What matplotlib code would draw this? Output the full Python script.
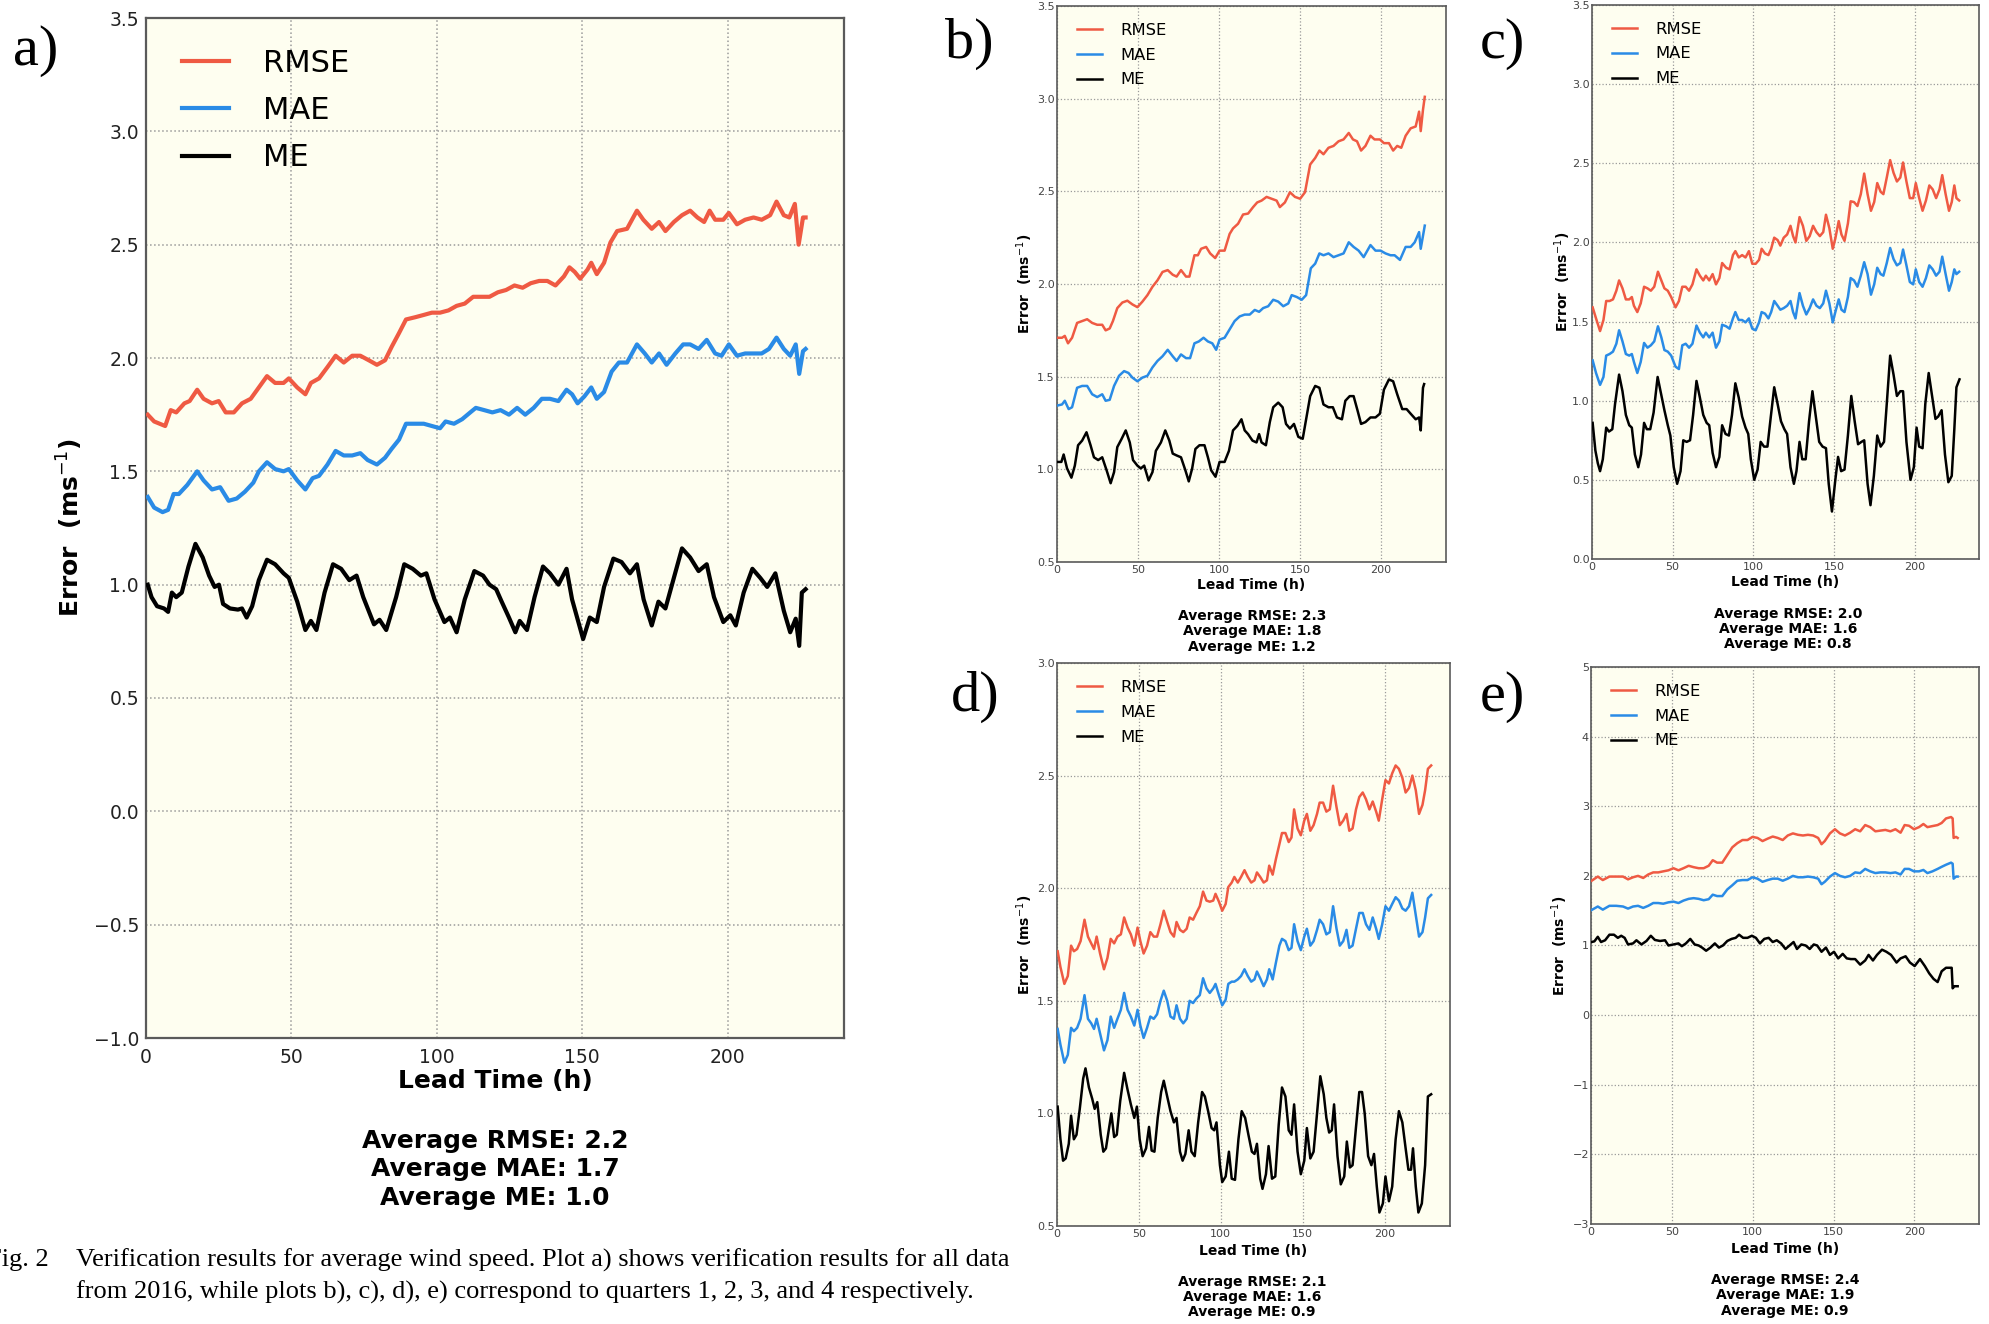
import matplotlib
matplotlib.use('Agg')
import matplotlib.pyplot as plt

# ---------------- data (lead time h, error m/s) ----------------
SERIES = ['RMSE', 'MAE', 'ME']

A_RMSE = [(0.6,1.75),(2.8,1.72),(6.6,1.70),(8.5,1.77),(10.4,1.76),(13.2,1.80),(15,1.81),(17.6,1.86),(19.8,1.82),(22.7,1.80),(25,1.81),(27.4,1.76),(30.2,1.76),(33,1.80),(36,1.82),(38.8,1.87),(41.6,1.92),(44.4,1.89),(47.3,1.89),(49.1,1.91),(52,1.87),(54.8,1.84),(56.7,1.89),(59.5,1.91),(62.4,1.96),(65.2,2.01),(68,1.98),(70.9,2.01),(73.7,2.01),(76.6,1.99),(79.4,1.97),(82.2,1.99),(84.5,2.05),(87,2.11),(89.4,2.17),(92.6,2.18),(95.5,2.19),(98.3,2.20),(101.1,2.20),(104,2.21),(106.8,2.23),(109.6,2.24),(112.5,2.27),(115.3,2.27),(118.1,2.27),(121,2.29),(123.8,2.30),(126.7,2.32),(129.5,2.31),(132.3,2.33),(135.2,2.34),(138,2.34),(140.8,2.32),(143.7,2.36),(145.6,2.40),(147.4,2.38),(149.3,2.35),(151.8,2.39),(153.1,2.42),(155,2.37),(157.5,2.42),(159.7,2.51),(162,2.56),(165.4,2.57),(168.8,2.65),(171,2.61),(173.9,2.57),(176.4,2.60),(178.6,2.56),(181.5,2.60),(184.3,2.63),(187.1,2.65),(189.6,2.62),(191.9,2.60),(193.8,2.65),(195.7,2.61),(198.5,2.61),(200.4,2.64),(203.2,2.59),(206,2.61),(208.9,2.62),(211.7,2.61),(214.6,2.63),(216.8,2.69),(219.3,2.63),(221.2,2.62),(223.1,2.68),(224.4,2.50),(225.9,2.62),(226.8,2.62)]
A_MAE = [(0.6,1.387),(2.8,1.34),(5.7,1.32),(7.6,1.33),(9.5,1.40),(11.3,1.40),(14.2,1.44),(17.6,1.50),(19.8,1.46),(22.7,1.42),(25.5,1.43),(28.4,1.37),(31.2,1.38),(34,1.41),(36.9,1.45),(38.8,1.50),(41.6,1.54),(44.4,1.51),(47.3,1.50),(49.1,1.51),(52,1.46),(54.8,1.42),(57.3,1.47),(59.5,1.48),(62.4,1.53),(65.2,1.59),(68,1.57),(70.9,1.57),(73.7,1.58),(76.2,1.55),(79.4,1.53),(82.2,1.56),(84.5,1.60),(87,1.64),(89.4,1.71),(92.6,1.71),(95.5,1.71),(98.3,1.70),(101.1,1.69),(103,1.72),(105.9,1.71),(108.7,1.73),(111.5,1.76),(113.4,1.78),(116.3,1.77),(119.1,1.76),(121.9,1.77),(124.8,1.75),(127.6,1.78),(130.4,1.75),(133.3,1.78),(136.1,1.82),(138.9,1.82),(141.8,1.81),(144.6,1.86),(146.5,1.84),(148.4,1.80),(150.7,1.83),(153.1,1.87),(155,1.82),(157.5,1.85),(160.1,1.94),(162.6,1.98),(165.4,1.98),(168.8,2.06),(171.5,2.02),(173.9,1.98),(176.4,2.02),(179,1.97),(182,2.02),(184.7,2.06),(187.1,2.06),(190,2.04),(192.8,2.08),(195.7,2.02),(197.9,2.01),(200.4,2.06),(203.2,2.01),(206,2.02),(208.9,2.02),(211.7,2.02),(214.2,2.04),(216.8,2.09),(219.3,2.04),(221.5,2.01),(223.4,2.06),(224.6,1.93),(225.9,2.03),(226.8,2.04)]
A_ME = [(0.6,1.00),(1.9,0.945),(3.8,0.905),(6.2,0.895),(7.6,0.88),(8.9,0.965),(10.4,0.945),(12.3,0.965),(14.6,1.08),(17,1.18),(19.5,1.12),(21.7,1.04),(23.6,0.99),(25.1,1.00),(26.5,0.915),(28.9,0.895),(31.6,0.89),(33,0.895),(34.6,0.855),(36.5,0.905),(38.8,1.02),(41.6,1.11),(44.4,1.09),(47.3,1.05),(49.1,1.03),(52,0.925),(54.8,0.80),(56.7,0.84),(58.6,0.80),(61.4,0.965),(64.3,1.09),(67.1,1.07),(69.9,1.02),(72.4,1.04),(74.7,0.945),(78.4,0.825),(80.3,0.845),(82.6,0.80),(86,0.945),(88.8,1.09),(91.7,1.07),(94.5,1.04),(96.4,1.05),(99.2,0.935),(102.6,0.835),(104.5,0.855),(106.8,0.79),(109.6,0.935),(112.9,1.06),(115.9,1.04),(118.1,1.00),(120.4,0.98),(122.3,0.925),(124.8,0.855),(127,0.79),(128.5,0.84),(131,0.80),(133.6,0.945),(136.5,1.08),(138.9,1.05),(141.8,1.00),(144.6,1.07),(146.5,0.935),(150.3,0.76),(152.6,0.855),(155,0.835),(157.5,0.99),(160.7,1.115),(163.5,1.10),(166.4,1.05),(168.8,1.09),(171.1,0.935),(173.9,0.82),(176.2,0.925),(178.6,0.895),(181.5,1.03),(184.3,1.16),(187.1,1.12),(190,1.06),(192.8,1.09),(195.3,0.945),(198.5,0.835),(200.9,0.865),(202.8,0.82),(205.5,0.965),(208.5,1.07),(211.2,1.03),(213.6,0.99),(216.4,1.05),(219.3,0.885),(221.5,0.79),(223.4,0.85),(224.6,0.73),(225.5,0.965),(226.8,0.98)]

B_RMSE = [(0.6,1.71),(3.1,1.71),(4.8,1.72),(6.8,1.68),(9.3,1.71),(12.4,1.79),(15.5,1.80),(18.6,1.81),(21.7,1.79),(24.8,1.78),(27.9,1.78),(30,1.75),(32.5,1.76),(34.5,1.80),(37.2,1.87),(40.3,1.90),(43.4,1.91),(46.5,1.89),(49.6,1.875),(52.7,1.905),(55.8,1.94),(58.9,1.985),(62,2.02),(65.1,2.065),(68.3,2.075),(71.4,2.05),(73.8,2.04),(76.5,2.075),(79.6,2.04),(81.7,2.04),(84.8,2.155),(86.9,2.155),(88.9,2.19),(92,2.20),(94.5,2.165),(97.6,2.14),(100.3,2.18),(103.4,2.18),(106.5,2.27),(108.6,2.30),(111.7,2.325),(114.8,2.375),(117.9,2.38),(121,2.415),(123.5,2.44),(126.2,2.45),(129.3,2.47),(132.4,2.46),(135.5,2.45),(137.5,2.415),(140.6,2.44),(143.7,2.495),(146.8,2.47),(150,2.46),(153,2.495),(156.2,2.645),(159.3,2.68),(161.9,2.72),(164.4,2.70),(167.5,2.735),(170.6,2.745),(173.7,2.77),(176.8,2.78),(180,2.815),(182.6,2.78),(185.1,2.77),(187.6,2.72),(190.3,2.745),(193.4,2.80),(195.9,2.78),(199.2,2.78),(201.7,2.76),(204.8,2.76),(207.4,2.72),(209.9,2.745),(212.4,2.735),(215.1,2.80),(218.2,2.84),(221.3,2.85),(223.4,2.93),(224.4,2.825),(225.8,2.94),(226.9,3.01)]
B_MAE = [(0.6,1.345),(3.1,1.35),(4.8,1.37),(7.2,1.325),(9.3,1.335),(12.4,1.44),(15.5,1.45),(18.6,1.45),(21.7,1.405),(24.8,1.39),(27.9,1.405),(30,1.37),(32.5,1.375),(35.2,1.45),(38.3,1.505),(41.4,1.53),(44.1,1.52),(46.5,1.495),(49.6,1.475),(52.7,1.495),(55.8,1.505),(58.9,1.55),(62,1.585),(65.1,1.61),(68.3,1.645),(71.4,1.61),(73.8,1.585),(76.5,1.62),(79.6,1.60),(82.1,1.60),(84.8,1.68),(87.5,1.69),(90.4,1.71),(93.1,1.69),(95.8,1.68),(98.2,1.645),(100.3,1.70),(103.4,1.71),(106.5,1.755),(109.6,1.80),(112.7,1.825),(115.8,1.835),(118.9,1.835),(122,1.86),(124.7,1.85),(127.2,1.87),(130.3,1.88),(133.4,1.915),(136.5,1.905),(139.6,1.88),(142.7,1.895),(144.8,1.94),(147.9,1.93),(151,1.915),(153.7,1.94),(156.6,2.085),(159.3,2.11),(161.9,2.165),(164.4,2.155),(167.5,2.165),(170.6,2.145),(173.7,2.155),(176.8,2.165),(180,2.225),(183,2.20),(186.1,2.18),(189.2,2.145),(193.4,2.21),(196.5,2.18),(199.6,2.18),(202.7,2.165),(205.8,2.155),(208.3,2.155),(211.6,2.13),(215.1,2.20),(218.2,2.20),(220.7,2.225),(223.4,2.28),(224.4,2.19),(225.8,2.26),(226.9,2.315)]
B_ME = [(0.6,1.04),(2.7,1.04),(4.1,1.08),(6.2,1.005),(8.9,0.955),(11,1.02),(13,1.13),(15.5,1.155),(18.2,1.20),(20.7,1.13),(22.8,1.065),(25.4,1.05),(27.9,1.065),(30.6,0.995),(33.1,0.925),(35.2,0.985),(37.2,1.12),(39.9,1.165),(42.4,1.21),(44.9,1.145),(46.9,1.05),(49.6,1.02),(51.7,1.005),(53.8,1.02),(56.5,0.94),(58.9,0.985),(61,1.10),(64.1,1.145),(66.8,1.21),(69.3,1.155),(71.4,1.085),(73.8,1.075),(76.5,1.065),(79.2,0.995),(81.3,0.935),(83.4,1.005),(85.4,1.11),(87.9,1.13),(91,1.13),(93.1,1.065),(95.1,0.995),(97.8,0.96),(100.3,1.04),(103.4,1.04),(106.1,1.10),(108.6,1.21),(111.3,1.235),(113.8,1.27),(115.8,1.21),(117.9,1.19),(120.6,1.155),(123.1,1.145),(124.7,1.19),(126.2,1.145),(128.9,1.13),(131.3,1.255),(133.4,1.335),(136.5,1.36),(139.2,1.335),(141.3,1.245),(143.7,1.22),(146.2,1.245),(148.9,1.175),(151.6,1.165),(154.1,1.29),(156.2,1.395),(159.3,1.45),(161.9,1.44),(164.4,1.35),(167.5,1.335),(170.2,1.335),(172.7,1.28),(175.8,1.27),(177.9,1.37),(180.6,1.395),(183,1.395),(185.5,1.315),(187.6,1.245),(190.3,1.255),(193.4,1.28),(196.5,1.28),(199.2,1.30),(201.7,1.43),(204.8,1.485),(207.4,1.475),(209.9,1.405),(213,1.325),(215.7,1.325),(218.2,1.30),(221.3,1.27),(223.4,1.28),(224.4,1.21),(225.8,1.44),(226.5,1.46)]

C_RMSE = [(0.4,1.59),(2.5,1.52),(5,1.44),(7.1,1.51),(8.8,1.63),(10.9,1.63),(13,1.64),(15.1,1.695),(16.8,1.76),(18.9,1.71),(21,1.64),(23.1,1.64),(24.7,1.655),(26,1.60),(28.1,1.56),(30.2,1.615),(32.3,1.72),(34.4,1.71),(36.5,1.695),(38.6,1.72),(40.9,1.815),(43,1.76),(44.9,1.71),(47,1.695),(49.1,1.655),(51.8,1.59),(53.9,1.63),(56,1.72),(58.1,1.72),(60.2,1.695),(62.3,1.735),(64.8,1.83),(66.9,1.79),(69,1.76),(70.6,1.79),(72.7,1.76),(74.8,1.80),(76.9,1.735),(79,1.775),(80.7,1.87),(83.2,1.84),(85.3,1.83),(87.4,1.92),(88.9,1.945),(91,1.905),(93.1,1.92),(95.2,1.905),(97.3,1.945),(99.4,1.865),(101.5,1.865),(103.6,1.89),(105.2,1.96),(107.3,1.93),(109.4,1.92),(111.1,1.96),(113,2.03),(115.1,2.015),(116.8,1.98),(118.9,2.03),(121,2.05),(123.1,2.105),(124.7,2.04),(126.2,2.00),(128.7,2.16),(130.8,2.105),(132.9,2.01),(135,2.04),(137.1,2.105),(139.2,2.065),(141.3,2.04),(143.4,2.065),(145.1,2.175),(147.2,2.09),(149.3,1.96),(150.9,2.025),(153,2.135),(154.7,2.05),(156.6,2.01),(158.7,2.12),(160.4,2.26),(162.5,2.255),(164.6,2.23),(166.7,2.305),(168.8,2.435),(170.9,2.305),(173,2.20),(175,2.255),(176.9,2.375),(179,2.32),(180.7,2.305),(182.8,2.41),(184.9,2.52),(187,2.44),(189.1,2.385),(191.2,2.41),(192.9,2.505),(195,2.385),(197.1,2.28),(199.2,2.28),(200.8,2.375),(202.9,2.28),(205,2.20),(207.1,2.265),(209.2,2.36),(211.3,2.335),(213.4,2.28),(215.5,2.335),(217.2,2.425),(219.3,2.305),(221.4,2.20),(223.1,2.255),(224.7,2.36),(226,2.28),(227.7,2.265)]
C_MAE = [(0.4,1.255),(2.5,1.175),(5,1.10),(7.1,1.15),(8.8,1.285),(10.9,1.295),(13,1.31),(15.1,1.36),(16.8,1.445),(18.9,1.375),(21,1.295),(23.1,1.285),(24.7,1.295),(26,1.245),(28.1,1.175),(30.2,1.245),(32.3,1.365),(34.4,1.335),(36.5,1.35),(38.6,1.375),(40.9,1.47),(43,1.40),(44.9,1.32),(47,1.31),(49.1,1.285),(51.8,1.215),(53.9,1.20),(56,1.35),(58.1,1.36),(60.2,1.335),(62.3,1.36),(64.8,1.475),(66.9,1.43),(69,1.40),(70.6,1.43),(72.7,1.40),(74.8,1.43),(76.9,1.335),(79,1.375),(80.7,1.48),(83.2,1.47),(85.3,1.455),(87.4,1.52),(88.9,1.56),(91,1.51),(93.1,1.51),(95.2,1.495),(97.3,1.52),(99.4,1.455),(101.5,1.445),(103.6,1.495),(105.2,1.56),(107.3,1.55),(109.4,1.52),(111.1,1.56),(113,1.63),(115.1,1.60),(116.8,1.575),(118.9,1.585),(121,1.60),(123.1,1.63),(124.7,1.56),(126.2,1.52),(128.7,1.68),(130.8,1.60),(132.9,1.545),(135,1.585),(137.1,1.64),(139.2,1.60),(141.3,1.585),(143.4,1.615),(145.1,1.695),(147.2,1.615),(149.3,1.495),(150.9,1.56),(153,1.64),(154.7,1.575),(156.6,1.56),(158.7,1.655),(160.4,1.775),(162.5,1.76),(164.6,1.72),(166.7,1.79),(168.8,1.875),(170.9,1.80),(173,1.67),(175,1.735),(176.9,1.84),(179,1.80),(180.7,1.79),(182.8,1.87),(184.9,1.965),(187,1.895),(189.1,1.855),(191.2,1.87),(192.9,1.955),(195,1.855),(197.1,1.75),(199.2,1.735),(200.8,1.83),(202.9,1.75),(205,1.72),(207.1,1.775),(209.2,1.855),(211.3,1.83),(213.4,1.79),(215.5,1.815),(217.2,1.91),(219.3,1.80),(221.4,1.695),(223.1,1.75),(224.7,1.83),(226,1.80),(227.7,1.815)]
C_ME = [(0.4,0.86),(2.1,0.685),(3.6,0.605),(5,0.555),(6.7,0.63),(8.8,0.83),(10.5,0.805),(12.6,0.82),(14.3,0.98),(16.8,1.165),(18.9,1.06),(21,0.91),(23.1,0.845),(24.7,0.83),(26.6,0.66),(28.7,0.58),(30.4,0.66),(32.3,0.86),(34,0.82),(36.1,0.82),(38.2,0.925),(40.7,1.15),(42.8,1.045),(44.9,0.94),(47,0.845),(48.6,0.78),(50.7,0.58),(52.8,0.475),(54.9,0.555),(56.6,0.75),(58.7,0.74),(60.8,0.75),(62.7,0.91),(64.8,1.125),(66.9,1.02),(69,0.91),(71.1,0.86),(72.7,0.845),(74.8,0.67),(76.9,0.58),(79,0.645),(80.7,0.845),(82.8,0.79),(84.9,0.78),(86.8,0.91),(88.9,1.11),(91,1.02),(93.1,0.90),(95.2,0.83),(96.9,0.79),(98.5,0.63),(100.6,0.50),(102.7,0.565),(104.6,0.74),(106.7,0.71),(108.8,0.71),(110.9,0.90),(113,1.085),(115.1,0.98),(117.2,0.87),(119.3,0.82),(121,0.79),(123.1,0.58),(125.2,0.475),(126.8,0.555),(128.7,0.74),(130.4,0.63),(132.5,0.63),(134.6,0.87),(136.7,1.06),(138.8,0.90),(140.9,0.74),(143,0.71),(145.1,0.70),(146.8,0.475),(148.8,0.30),(150.9,0.50),(152.6,0.645),(154.5,0.555),(156.6,0.565),(158.7,0.78),(160.8,1.03),(162.9,0.87),(165,0.725),(167.1,0.74),(168.8,0.75),(170.9,0.475),(172.7,0.34),(174.8,0.525),(176.9,0.78),(179,0.71),(181.1,0.74),(182.8,0.98),(184.9,1.285),(187,1.165),(189.1,1.03),(191.2,1.06),(192.9,1.06),(195,0.74),(197.5,0.50),(199.6,0.58),(201.3,0.83),(202.9,0.71),(205,0.70),(206.7,0.98),(208.8,1.175),(210.9,1.03),(213,0.885),(214.7,0.90),(216.8,0.94),(218.9,0.66),(221,0.485),(223.1,0.525),(224.7,0.82),(226,1.085),(227.9,1.135)]

D_RMSE = [(0.4,1.72),(2.1,1.65),(4.5,1.575),(6.6,1.61),(8.6,1.745),(10.3,1.72),(12.3,1.73),(14.4,1.765),(16.8,1.86),(18.9,1.785),(20.9,1.755),(22.6,1.73),(24.2,1.785),(26.3,1.71),(28.7,1.64),(30.8,1.69),(32.8,1.775),(34.9,1.755),(36.9,1.785),(39,1.795),(41,1.87),(43.1,1.825),(45.1,1.795),(47.2,1.745),(49.2,1.825),(50.9,1.765),(52.9,1.71),(55,1.745),(57,1.805),(59.1,1.785),(61.1,1.785),(63.2,1.84),(65.2,1.90),(67.3,1.85),(69.3,1.805),(71.4,1.785),(73,1.85),(75.1,1.815),(77.1,1.805),(79.2,1.82),(81,1.87),(83.1,1.86),(85.1,1.89),(87.2,1.92),(89.2,1.985),(91.3,1.945),(93.3,1.94),(95.4,1.945),(96.8,1.975),(98.9,1.94),(100.9,1.90),(103,1.93),(104.6,2.005),(106.7,2.025),(108.3,2.05),(110.4,2.025),(112.4,2.05),(114.5,2.08),(116.5,2.05),(118.6,2.025),(120.6,2.035),(122.1,2.07),(124.1,2.05),(126.2,2.025),(128.2,2.035),(129.6,2.10),(131.7,2.06),(133.7,2.13),(135.8,2.195),(137.4,2.245),(139.5,2.245),(141.5,2.205),(143.2,2.225),(144.8,2.35),(146.9,2.265),(148.9,2.235),(151,2.30),(152.6,2.33),(154.7,2.255),(156.7,2.28),(158.8,2.33),(160.4,2.38),(162.5,2.38),(164.5,2.34),(166.6,2.35),(168.6,2.455),(170.7,2.36),(172.7,2.28),(174.8,2.30),(176.8,2.33),(178.5,2.255),(180.5,2.265),(182.6,2.35),(184.6,2.405),(186.7,2.425),(188.7,2.395),(190.8,2.35),(192.8,2.385),(194.9,2.34),(196.5,2.30),(198.6,2.395),(200.6,2.48),(202.7,2.465),(204.7,2.51),(206.8,2.545),(208.8,2.53),(210.9,2.49),(212.9,2.425),(215,2.445),(217,2.50),(219.1,2.435),(221.1,2.33),(223.2,2.37),(224.8,2.435),(226.5,2.53),(228.5,2.545)]
D_MAE = [(0.4,1.375),(2.1,1.305),(4.5,1.225),(6.6,1.26),(8.6,1.38),(10.3,1.365),(12.3,1.38),(14.4,1.42),(16.8,1.525),(18.9,1.42),(20.9,1.40),(22.6,1.375),(24.2,1.42),(26.3,1.355),(28.7,1.28),(30.8,1.325),(32.8,1.43),(34.9,1.38),(36.9,1.42),(39,1.46),(41,1.535),(43.1,1.46),(45.1,1.43),(47.2,1.39),(49.2,1.46),(50.9,1.39),(52.9,1.335),(55,1.38),(57,1.43),(59.1,1.42),(61.1,1.44),(63.2,1.50),(65.2,1.545),(67.3,1.50),(69.3,1.43),(71.4,1.42),(73,1.48),(75.1,1.42),(77.1,1.40),(79.2,1.42),(81,1.50),(83.1,1.49),(85.1,1.51),(87.2,1.525),(89.2,1.60),(91.3,1.555),(93.3,1.535),(95.4,1.555),(96.8,1.575),(98.9,1.525),(100.9,1.48),(103,1.505),(104.6,1.575),(106.7,1.585),(108.3,1.585),(110.4,1.595),(112.4,1.61),(114.5,1.64),(116.5,1.61),(118.6,1.585),(120.6,1.595),(122.1,1.63),(124.1,1.60),(126.2,1.565),(128.2,1.595),(129.6,1.64),(131.7,1.595),(133.7,1.67),(135.8,1.745),(137.4,1.775),(139.5,1.765),(141.5,1.725),(143.2,1.735),(144.8,1.84),(146.9,1.765),(148.9,1.725),(151,1.785),(152.6,1.82),(154.7,1.745),(156.7,1.765),(158.8,1.815),(160.4,1.86),(162.5,1.84),(164.5,1.795),(166.6,1.805),(168.6,1.92),(170.7,1.82),(172.7,1.745),(174.8,1.765),(176.8,1.815),(178.5,1.735),(180.5,1.745),(182.6,1.82),(184.6,1.89),(186.7,1.89),(188.7,1.84),(190.8,1.815),(192.8,1.87),(194.9,1.82),(196.5,1.775),(198.6,1.84),(200.6,1.92),(202.7,1.90),(204.7,1.93),(206.8,1.96),(208.8,1.945),(210.9,1.91),(212.9,1.90),(215,1.92),(217,1.98),(219.1,1.88),(221.1,1.785),(223.2,1.805),(224.8,1.87),(226.5,1.955),(228.5,1.97)]
D_ME = [(0.4,1.03),(2.1,0.885),(3.7,0.79),(5.3,0.80),(7.2,0.865),(8.6,0.99),(10.3,0.885),(11.9,0.905),(13.9,1.02),(16,1.155),(17.4,1.20),(19.5,1.115),(21.5,1.065),(23,1.02),(24.6,1.05),(26.7,0.905),(28.3,0.83),(29.9,0.845),(31.8,0.935),(33.2,1.00),(34.9,0.895),(36.5,0.905),(38.6,1.055),(41,1.18),(43.1,1.105),(45.1,1.04),(47.2,0.98),(48.8,1.03),(50.5,0.885),(52.3,0.81),(54.4,0.845),(56.2,0.94),(57.8,0.835),(59.5,0.83),(61.5,0.98),(63.6,1.095),(65.2,1.145),(67.3,1.075),(69.3,1.01),(71.4,0.96),(73,0.98),(75.1,0.83),(76.7,0.79),(78.4,0.82),(80.4,0.925),(82.1,0.83),(84.1,0.81),(86.2,0.96),(88.6,1.095),(90.3,1.075),(92.3,1.01),(94.4,0.935),(96,0.925),(97.4,0.96),(99.5,0.77),(100.9,0.695),(103,0.72),(105,0.83),(106.7,0.71),(108.7,0.705),(110.8,0.885),(112.8,1.01),(114.9,0.98),(116.9,0.905),(119,0.83),(120.6,0.82),(122.1,0.865),(124.1,0.71),(125.5,0.665),(127.6,0.73),(129.2,0.855),(131.3,0.71),(133.3,0.72),(135.4,0.95),(137.4,1.115),(139.5,1.075),(141.5,0.925),(143.2,0.905),(144.8,1.04),(146.9,0.83),(148.9,0.73),(151,0.79),(152.6,0.935),(154.7,0.80),(156.7,0.83),(158.8,1.00),(160.8,1.165),(162.9,1.085),(164.5,0.98),(166.2,0.915),(167.8,0.925),(169.2,1.04),(171.3,0.81),(173.3,0.685),(175.4,0.72),(177,0.875),(178.9,0.76),(180.5,0.77),(182.6,0.94),(184.6,1.095),(186.3,1.095),(187.9,1.00),(190,0.81),(192,0.77),(193.6,0.82),(195.3,0.675),(196.9,0.56),(199,0.60),(200.6,0.72),(202.7,0.61),(204.7,0.675),(206.8,0.885),(208.8,1.01),(210.9,0.96),(212.9,0.845),(214.6,0.75),(216.2,0.75),(217.4,0.845),(219.1,0.675),(220.7,0.56),(222.8,0.60),(224.8,0.77),(226.5,1.075),(228.5,1.085)]

E_RMSE = [(0.4,1.93),(4.2,1.99),(7.3,1.94),(11.4,1.99),(15.6,1.99),(19.8,1.99),(22.9,1.95),(26,1.98),(29.1,2.00),(32.3,1.97),(35.4,2.02),(38.5,2.05),(41.6,2.05),(44.7,2.065),(47.9,2.08),(51,2.11),(54.1,2.08),(57.2,2.11),(60.4,2.145),(63.5,2.125),(66.6,2.11),(69.7,2.11),(72.8,2.145),(75.3,2.225),(78,2.19),(81.2,2.19),(84.3,2.30),(87.4,2.41),(90.5,2.47),(93.7,2.515),(96.8,2.515),(99.9,2.56),(103,2.545),(106.1,2.50),(109.3,2.535),(112.4,2.565),(115.5,2.545),(118.6,2.515),(121.7,2.58),(124.9,2.61),(128,2.59),(131.1,2.58),(134.2,2.59),(137.4,2.58),(140.5,2.545),(142.6,2.455),(144.6,2.50),(147.8,2.61),(150.9,2.67),(154,2.61),(157.1,2.58),(160.3,2.62),(163.4,2.67),(166.5,2.64),(169.6,2.73),(172.7,2.70),(175.9,2.64),(179,2.65),(182.1,2.66),(185.2,2.64),(188.3,2.67),(191.5,2.62),(194,2.73),(196.7,2.72),(199.8,2.67),(202.9,2.70),(205.6,2.745),(208.1,2.70),(211.2,2.715),(214.4,2.73),(216.9,2.76),(219.6,2.825),(222.7,2.845),(223.7,2.825),(224.3,2.545),(225.8,2.56),(226.8,2.545)]
E_MAE = [(0.4,1.51),(4.2,1.56),(7.3,1.515),(11.4,1.57),(15.6,1.57),(19.8,1.56),(22.9,1.53),(26,1.56),(29.1,1.57),(32.3,1.54),(35.4,1.57),(38.5,1.61),(41.6,1.61),(44.7,1.60),(47.9,1.62),(51,1.63),(54.1,1.61),(57.2,1.645),(60.4,1.67),(63.5,1.68),(66.6,1.67),(69.7,1.65),(72.8,1.665),(75.3,1.73),(78,1.71),(81.2,1.71),(84.3,1.805),(87.4,1.865),(90.5,1.93),(93.7,1.94),(96.8,1.94),(99.9,1.98),(103,1.96),(106.1,1.915),(109.3,1.94),(112.4,1.96),(115.5,1.96),(118.6,1.93),(121.7,1.96),(124.9,2.00),(128,1.98),(131.1,1.98),(134.2,1.99),(137.4,1.98),(140.5,1.96),(142.6,1.88),(144.6,1.915),(147.8,1.99),(150.9,2.04),(154,2.00),(157.1,1.98),(160.3,2.00),(163.4,2.05),(166.5,2.04),(169.6,2.10),(172.7,2.065),(175.9,2.04),(179,2.05),(182.1,2.05),(185.2,2.04),(188.3,2.05),(191.5,2.02),(194,2.10),(196.7,2.10),(199.8,2.065),(202.9,2.065),(205.6,2.085),(208.1,2.04),(211.2,2.065),(214.4,2.10),(216.9,2.13),(219.6,2.16),(222.7,2.19),(223.7,2.175),(224.3,1.96),(225.8,1.99),(226.8,1.99)]
E_ME = [(0.4,1.05),(2.1,1.06),(4.2,1.125),(6.2,1.05),(8.7,1.075),(11.4,1.155),(14.2,1.155),(16.6,1.11),(18.7,1.14),(20.8,1.11),(22.9,1.015),(26,1.03),(28.1,1.075),(31.2,1.015),(34.3,1.065),(37,1.14),(39.5,1.08),(42.7,1.065),(45.8,1.075),(47.9,1.00),(51,1.015),(54.1,1.03),(56.2,0.99),(58.7,1.03),(61.4,1.095),(64.1,1.015),(66.6,1.00),(68.7,0.97),(71.2,0.925),(73.9,0.97),(76.6,1.03),(79.1,0.97),(81.6,1.00),(84.3,1.065),(87,1.095),(89.5,1.11),(91.6,1.155),(94.1,1.11),(96.8,1.11),(99.5,1.14),(102,1.11),(104.5,1.03),(107.2,1.095),(109.9,1.11),(112.4,1.05),(114.9,1.075),(117.6,1.03),(120.3,0.95),(122.8,1.00),(125.3,1.05),(127.4,0.95),(130.1,1.015),(132.8,1.00),(135.3,0.95),(137.8,1.015),(139.9,1.00),(142.6,0.91),(145.3,0.97),(147.8,0.865),(150.3,0.91),(152.9,0.815),(155.7,0.88),(158.2,0.815),(160.7,0.805),(163.4,0.805),(166.5,0.725),(169.6,0.785),(171.7,0.865),(174.4,0.785),(176.9,0.865),(180,0.94),(182.7,0.91),(185.6,0.865),(189,0.755),(191.5,0.815),(194.6,0.845),(197.3,0.755),(200.2,0.705),(203.5,0.805),(206.5,0.705),(209.2,0.60),(211.9,0.52),(214.4,0.475),(216.9,0.63),(219.6,0.68),(221.7,0.68),(223.1,0.68),(223.7,0.385),(224.8,0.415),(226.8,0.415)]

A_AVG = [2.2, 1.7, 1.0]
B_AVG = [2.3, 1.8, 1.2]
C_AVG = [2.0, 1.6, 0.8]
D_AVG = [2.1, 1.6, 0.9]
E_AVG = [2.4, 1.9, 0.9]

A_YTICKS = [-1.0, -0.5, 0.0, 0.5, 1.0, 1.5, 2.0, 2.5, 3.0, 3.5]
B_YTICKS = [0.5, 1.0, 1.5, 2.0, 2.5, 3.0, 3.5]
C_YTICKS = [0.0, 0.5, 1.0, 1.5, 2.0, 2.5, 3.0, 3.5]
D_YTICKS = [0.5, 1.0, 1.5, 2.0, 2.5, 3.0]
E_YTICKS = [-3, -2, -1, 0, 1, 2, 3, 4, 5]
XTICKS = [0, 50, 100, 150, 200]

CAPTION_1 = "Verification results for average wind speed. Plot a) shows verification results for all data"
CAPTION_2 = "from 2016, while plots b), c), d), e) correspond to quarters 1, 2, 3, and 4 respectively."

# ---------------- style ----------------
W, H = 1989, 1324
COLORS = ['#ef5a43', '#2a8be6', '#000000']
BG = '#fefef0'
SERIF = ['Liberation Serif', 'DejaVu Serif']

fig = plt.figure(figsize=(W / 100, H / 100), dpi=100)
fig.patch.set_facecolor('white')


def px_axes(l, t, r, b):
    return fig.add_axes([l / W, 1 - b / H, (r - l) / W, (b - t) / H])


def panel(box, data, yticks, yfmt, big, ylab_x, xlab_y, avgs, avg_x, avg_ys, letter, letter_xy):
    ax = px_axes(*box)
    ax.set_facecolor(BG)
    lw = 3.0 if big else 1.8
    for name, series, col in zip(SERIES, data, COLORS):
        t, v = zip(*series)
        ax.plot(t, v, color=col, lw=lw, label=name, zorder=3, solid_joinstyle='round')
    ax.set_xlim(0, 240)
    ax.set_ylim(yticks[0], yticks[-1])
    ax.set_xticks(XTICKS)
    ax.set_yticks(yticks)
    ax.set_yticklabels([yfmt.format(y).replace('-', '\u2212') for y in yticks])
    ax.grid(True, linestyle=':', color='#9a9a9a', linewidth=1.1 if big else 0.9, zorder=1)
    for s in ax.spines.values():
        s.set_color('#5a5a5a')
        s.set_linewidth(1.6 if big else 1.2)
    if big:
        ax.tick_params(axis='both', length=0, labelsize=13.5, colors='#222222')
        ax.tick_params(axis='y', pad=5)
        ax.tick_params(axis='x', pad=7)
        fs_leg, fs_lab = 22, 18
    else:
        ax.tick_params(axis='both', length=0, labelsize=8, colors='#444444')
        ax.tick_params(axis='y', pad=1.5)
        ax.tick_params(axis='x', pad=2.5)
        fs_leg, fs_lab = 11.8, 10
    ax.set_xlabel('Lead Time (h)', fontsize=fs_lab, fontweight='bold', va='center')
    ax.xaxis.set_label_coords(0.5, xlab_y)
    ax.set_ylabel(r'Error  (ms$^{-1}$)', fontsize=fs_lab, fontweight='bold', va='center', ha='center')
    ax.yaxis.set_label_coords(ylab_x, 0.5)
    ax.legend(loc='upper left', bbox_to_anchor=(0.051, 0.970), borderaxespad=0, borderpad=0,
              frameon=False, fontsize=fs_leg, handlelength=1.55, handletextpad=1.1,
              labelspacing=0.6)
    for name, val, y in zip(SERIES, avgs, avg_ys):
        fig.text(avg_x / W, 1 - y / H, 'Average %s: %.1f' % (name, val), ha='center', va='center',
                 fontsize=fs_lab, fontweight='bold')
    fig.text(letter_xy[0] / W, 1 - letter_xy[1] / H, letter, family=SERIF, fontsize=42,
             ha='left', va='center')
    return ax


panel((146, 18, 844, 1038), [A_RMSE, A_MAE, A_ME], A_YTICKS, '{:.1f}', True,
      -0.109, -0.042, A_AVG, 495, (1141, 1169, 1198), 'a)', (13, 51))
panel((1057, 6, 1446, 562), [B_RMSE, B_MAE, B_ME], B_YTICKS, '{:.1f}', False,
      -0.082, -0.041, B_AVG, 1252, (616, 631, 647), 'b)', (945, 44))
panel((1592, 5, 1979, 559), [C_RMSE, C_MAE, C_ME], C_YTICKS, '{:.1f}', False,
      -0.075, -0.042, C_AVG, 1788, (614, 629, 644), 'c)', (1480, 44))
panel((1057, 663, 1450, 1226), [D_RMSE, D_MAE, D_ME], D_YTICKS, '{:.1f}', False,
      -0.081, -0.044, D_AVG, 1252, (1282, 1297, 1312), 'd)', (951, 697))
panel((1591, 667, 1979, 1224), [E_RMSE, E_MAE, E_ME], E_YTICKS, '{:d}', False,
      -0.080, -0.045, E_AVG, 1785, (1280, 1295, 1311), 'e)', (1480, 697))

fig.text(-13 / W, 1 - 1260 / H, 'Fig. 2', family=SERIF, fontsize=19, ha='left', va='center')
fig.text(76 / W, 1 - 1260 / H, CAPTION_1, family=SERIF, fontsize=19, ha='left', va='center')
fig.text(76 / W, 1 - 1292 / H, CAPTION_2, family=SERIF, fontsize=19, ha='left', va='center')

fig.savefig('out.png', dpi=100, facecolor='white')
